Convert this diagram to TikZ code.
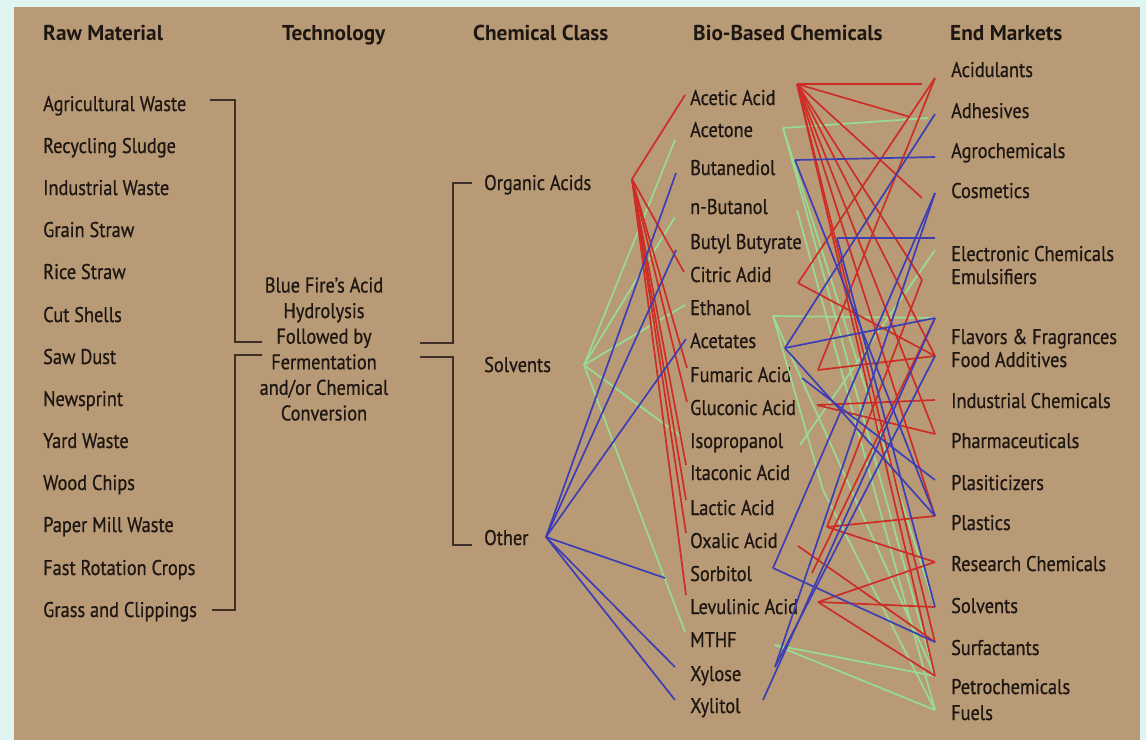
\documentclass[tikz,border=0pt]{standalone}
\usepackage{fontspec}
\setmainfont{PT Sans}[FakeStretch=0.86,FakeBold=0.7]
\newfontfamily\hdrfont{PT Sans Bold}[FakeStretch=0.99]
\definecolor{bgcyan}{RGB}{222,245,242}
\definecolor{tanbg}{RGB}{184,155,118}
\definecolor{ink}{RGB}{30,22,18}
\definecolor{brk}{RGB}{62,48,38}
\definecolor{lred}{RGB}{205,45,38}
\definecolor{lblue}{RGB}{62,62,180}
\definecolor{lgreen}{RGB}{150,220,148}
\tikzset{
  lbl/.style={anchor=base west,inner sep=0pt,text=ink,font=\fontsize{21.3}{25}\selectfont},
  hdr/.style={anchor=base west,inner sep=0pt,text=ink,font=\hdrfont\fontsize{21.5}{25}\selectfont},
  bracket/.style={draw=brk,line width=1.6pt},
  redl/.style={draw=lred,line width=1.7pt},
  bluel/.style={draw=lblue,line width=1.7pt},
  greenl/.style={draw=lgreen,line width=1.7pt}
}
\begin{document}
\begin{tikzpicture}[x=1pt,y=-1pt]
\useasboundingbox (0,0) rectangle (1146,740);
\fill[bgcyan] (0,0) rectangle (1146,740);
\fill[tanbg] (14,7) rectangle (1140,740);

% headers
\node[hdr] (h1) at (43,40) {Raw Material};
\node[hdr] (h2) at (282,40) {Technology};
\node[hdr] (h3) at (473,40) {Chemical Class};
\node[hdr] (h4) at (693,40) {Bio-Based Chemicals};
\node[hdr] (h5) at (950,40) {End Markets};

% raw materials
\node[lbl] (r1) at (43,111) {Agricultural Waste};
\node[lbl] (r2) at (43,153) {Recycling Sludge};
\node[lbl] (r3) at (43,195) {Industrial Waste};
\node[lbl] (r4) at (43,237) {Grain Straw};
\node[lbl] (r5) at (43,279) {Rice Straw};
\node[lbl] (r6) at (43,322) {Cut Shells};
\node[lbl] (r7) at (43,364) {Saw Dust};
\node[lbl] (r8) at (43,406) {Newsprint};
\node[lbl] (r9) at (43,448) {Yard Waste};
\node[lbl] (r10) at (43,490) {Wood Chips};
\node[lbl] (r11) at (43,532) {Paper Mill Waste};
\node[lbl] (r12) at (43,575) {Fast Rotation Crops};
\node[lbl] (r13) at (43,617) {Grass and Clippings};

% technology
\node[inner sep=0pt,text=ink,align=center,font=\fontsize{21.3}{25.6}\selectfont] (tech) at (324,349)
  {Blue Fire’s Acid\\Hydrolysis\\Followed by\\Fermentation\\and/or Chemical\\Conversion};

% brackets
\draw[bracket] (210,100) -- (235,100) -- (235,342) -- (262,342);
\draw[bracket] (262,355) -- (235,355) -- (235,610) -- (212,610);
\draw[bracket] (420,343) -- (453,343) -- (453,183) -- (472,183);
\draw[bracket] (420,357) -- (453,357) -- (453,545) -- (472,545);

% chemical classes
\node[lbl] (c1) at (484,190) {Organic Acids};
\node[lbl] (c2) at (484,372) {Solvents};
\node[lbl] (c3) at (484,545) {Other};

% bio-based chemicals
\node[lbl] (b1) at (690,105) {Acetic Acid};
\node[lbl] (b2) at (690,137) {Acetone};
\node[lbl] (b3) at (690,175) {Butanediol};
\node[lbl] (b4) at (690,214) {n-Butanol};
\node[lbl] (b5) at (690,249) {Butyl Butyrate};
\node[lbl] (b6) at (690,282) {Citric Adid};
\node[lbl] (b7) at (690,315) {Ethanol};
\node[lbl] (b8) at (690,348) {Acetates};
\node[lbl] (b9) at (690,382) {Fumaric Acid};
\node[lbl] (b10) at (690,415) {Gluconic Acid};
\node[lbl] (b11) at (690,448) {Isopropanol};
\node[lbl] (b12) at (690,480) {Itaconic Acid};
\node[lbl] (b13) at (690,515) {Lactic Acid};
\node[lbl] (b14) at (690,548) {Oxalic Acid};
\node[lbl] (b15) at (690,581) {Sorbitol};
\node[lbl] (b16) at (690,614) {Levulinic Acid};
\node[lbl] (b17) at (690,647) {MTHF};
\node[lbl] (b18) at (690,681) {Xylose};
\node[lbl] (b19) at (690,713) {Xylitol};

% end markets
\node[lbl] (m1) at (951,77) {Acidulants};
\node[lbl] (m2) at (951,118) {Adhesives};
\node[lbl] (m3) at (951,158) {Agrochemicals};
\node[lbl] (m4) at (951,198) {Cosmetics};
\node[lbl] (m5) at (951,261) {Electronic Chemicals};
\node[lbl] (m6) at (951,284) {Emulsifiers};
\node[lbl] (m7) at (951,344) {Flavors \& Fragrances};
\node[lbl] (m8) at (951,367) {Food Additives};
\node[lbl] (m9) at (951,408) {Industrial Chemicals};
\node[lbl] (m10) at (951,448) {Pharmaceuticals};
\node[lbl] (m11) at (951,490) {Plasiticizers};
\node[lbl] (m12) at (951,530) {Plastics};
\node[lbl] (m13) at (951,571) {Research Chemicals};
\node[lbl] (m14) at (951,613) {Solvents};
\node[lbl] (m15) at (951,655) {Surfactants};
\node[lbl] (m16) at (951,694) {Petrochemicals};
\node[lbl] (m17) at (951,720) {Fuels};

% hubs
\coordinate (hOA) at (632,179);
\coordinate (hSV) at (584,365);
\coordinate (hOT) at (546,537);

% left ends at chemicals
\coordinate (lAce) at (685,95);
\coordinate (lAcn) at (675,140);
\coordinate (lBdo) at (676,173);
\coordinate (lNbu) at (675,217);
\coordinate (lBbu) at (676,250);
\coordinate (lCit) at (684,272);
\coordinate (lEth) at (685,305);
\coordinate (lAct) at (686,339);
\coordinate (lFum) at (687,368);
\coordinate (lGlu) at (687,402);
\coordinate (lIso) at (682,437);
\coordinate (lIta) at (686,465);
\coordinate (lLac) at (686,500);
\coordinate (lOxa) at (686,533);
\coordinate (lSor) at (665,578);
\coordinate (lLev) at (686,595);
\coordinate (lMth) at (685,632);
\coordinate (lXyl) at (675,667);
\coordinate (lXyt) at (675,700);

% right starts at chemicals
\coordinate (sAce) at (797,84);
\coordinate (sAcn) at (783,128);
\coordinate (sBdo) at (795,160);
\coordinate (sNbu) at (797,210);
\coordinate (sBbu) at (837,238);
\coordinate (sCit) at (798,283);
\coordinate (sEth) at (773,316);
\coordinate (sAct) at (785,348);
\coordinate (sFumR) at (818,370);
\coordinate (sFumB) at (802,378);
\coordinate (sGlu) at (817,405);
\coordinate (sIso) at (800,445);
\coordinate (sV) at (823,490);
\coordinate (sLac) at (827,527);
\coordinate (sOxa) at (798,546);
\coordinate (sOx2) at (812,573);
\coordinate (sSor) at (773,568);
\coordinate (sLev) at (818,602);
\coordinate (sMth) at (775,645);
\coordinate (sXyl) at (775,667);
\coordinate (sXyt) at (763,700);

% market ends
\coordinate (eAcidu) at (935,78);
\coordinate (eAcidA) at (922,84);
\coordinate (eAdh) at (935,114);
\coordinate (eAdhA) at (910,117);
\coordinate (eAdhG) at (928,118);
\coordinate (eAgro) at (935,157);
\coordinate (eCos) at (935,193);
\coordinate (eCosA) at (922,198);
\coordinate (eElec) at (935,238);
\coordinate (eElecG) at (935,250);
\coordinate (eEmul) at (922,280);
\coordinate (eFlav) at (935,318);
\coordinate (eFood) at (935,356);
\coordinate (eInd) at (935,400);
\coordinate (ePharm) at (935,434);
\coordinate (ePlz) at (935,480);
\coordinate (ePls) at (935,516);
\coordinate (eRes) at (935,562);
\coordinate (eSol) at (935,607);
\coordinate (eSurf) at (935,642);
\coordinate (ePetro) at (935,676);
\coordinate (eFuel) at (935,710);

% class -> chemicals
\foreach \e in {lAcn,lNbu,lEth,lIso,lMth} \draw[greenl] (hSV) -- (\e);
\foreach \e in {lAce,lCit,lFum,lGlu,lIta,lLac,lOxa,lLev} \draw[redl] (hOA) -- (\e);
\foreach \e in {lBdo,lBbu,lAct,lSor,lXyl,lXyt} \draw[bluel] (hOT) -- (\e);

% chemicals -> markets
\foreach \s/\e in {sAcn/eAdhG,sAcn/eSol,sAcn/ePetro,sNbu/eFuel,sEth/eFlav,sEth/ePetro,sIso/eElecG,sMth/ePetro,sMth/eFuel}
  \draw[greenl] (\s) -- (\e);
\draw[greenl] (sEth) -- (sV) -- (eFuel);
\foreach \s/\e in {sAce/eAcidA,sAce/eAdhA,sAce/eCosA,sAce/eEmul,sAce/eFood,sAce/ePharm,sAce/ePls,sAce/eSurf,sAce/ePetro,
  sCit/eAcidu,sCit/eFood,sFumR/eAcidu,sFumR/eFood,sGlu/eInd,sGlu/ePharm,sLac/ePls,sLac/eEmul,sLac/eRes,
  sOxa/eSurf,sOx2/eFlav,sLev/eRes,sLev/eSol,sLev/ePetro}
  \draw[redl] (\s) -- (\e);
\foreach \s/\e in {sBdo/eAgro,sBdo/ePls,sBbu/eElec,sBbu/eSol,sAct/eAdh,sAct/eFlav,sAct/ePls,sFumB/ePlz,
  sSor/eCos,sSor/eSurf,sXyl/eFood,sXyl/eCos,sXyt/eFlav}
  \draw[bluel] (\s) -- (\e);
\end{tikzpicture}
\end{document}
